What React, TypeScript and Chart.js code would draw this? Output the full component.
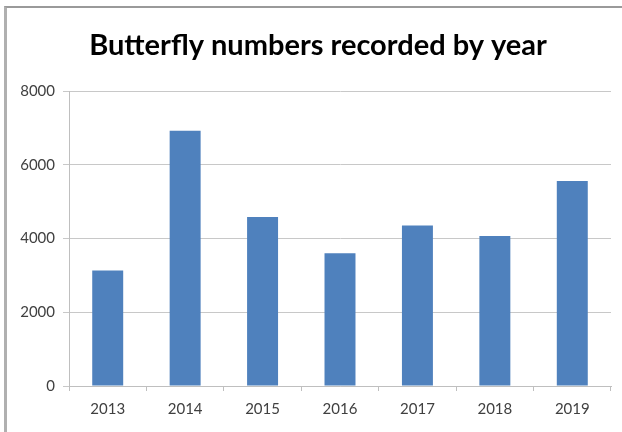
import React, { useEffect, useRef } from "react";
import { Chart, registerables } from "chart.js";

Chart.register(...registerables);

const years = ["2013", "2014", "2015", "2016", "2017", "2018", "2019"];
const butterflyCounts = [3130, 6920, 4580, 3600, 4350, 4070, 5560];
const yTicks = [0, 2000, 4000, 6000, 8000];
const titleText = "Butterfly numbers recorded by year";

const titlePlugin = {
  id: "fixedTitle",
  afterDraw(chart: any) {
    const ctx = chart.ctx;
    ctx.save();
    ctx.font = "bold 29px Lato";
    ctx.fillStyle = "#000000";
    ctx.textAlign = "center";
    ctx.textBaseline = "middle";
    ctx.fillText(titleText, 318, 46);
    ctx.restore();
  },
};

export default function App() {
  const ref = useRef<HTMLCanvasElement | null>(null);

  useEffect(() => {
    const canvas = ref.current;
    if (!canvas) return;
    const chart = new Chart(canvas, {
      type: "bar",
      data: {
        labels: years,
        datasets: [
          {
            data: butterflyCounts,
            backgroundColor: "#4F81BD",
            borderWidth: 0,
            barPercentage: 0.4,
            categoryPercentage: 1,
          },
        ],
      },
      options: {
        responsive: false,
        animation: false,
        maintainAspectRatio: false,
        layout: { padding: { left: 10, right: 11, top: 91, bottom: 5 } },
        plugins: {
          legend: { display: false },
          tooltip: { enabled: false },
          title: { display: false },
        },
        scales: {
          x: {
            grid: {
              display: true,
              drawOnChartArea: false,
              drawTicks: true,
              tickLength: 5,
              color: "#BFBFBF",
              offset: true,
            },
            border: { display: true, color: "#BFBFBF", width: 1 },
            ticks: {
              color: "#404040",
              font: { family: "Lato", size: 15 },
              padding: 9,
              maxRotation: 0,
            },
          },
          y: {
            min: 0,
            max: 8000,
            afterBuildTicks: (scale: any) => {
              scale.ticks = yTicks.map((v) => ({ value: v }));
            },
            afterFit: (scale: any) => {
              scale.width = 59;
            },
            grid: {
              color: "#C8C8C8",
              tickLength: 6,
              lineWidth: 1,
            },
            border: { display: true, color: "#BFBFBF", width: 1 },
            ticks: {
              color: "#404040",
              font: { family: "Lato", size: 15 },
              padding: 8,
              callback: (v: any) => String(v),
            },
          },
        },
      },
      plugins: [titlePlugin],
    });
    return () => chart.destroy();
  }, []);

  return (
    <div
      style={{
        position: "absolute",
        left: 0,
        top: 0,
        width: 622,
        height: 432,
        background: "#ffffff",
        overflow: "hidden",
      }}
    >
      <div
        style={{
          position: "absolute",
          left: 4,
          top: 6,
          width: 618,
          height: 426,
          borderTop: "2px solid #9a9a9a",
          borderLeft: "3px solid #b0b0b0",
          boxSizing: "border-box",
        }}
      />
      <canvas
        ref={ref}
        width={622}
        height={432}
        style={{ position: "absolute", left: 0, top: 0, width: 622, height: 432 }}
      />
    </div>
  );
}
